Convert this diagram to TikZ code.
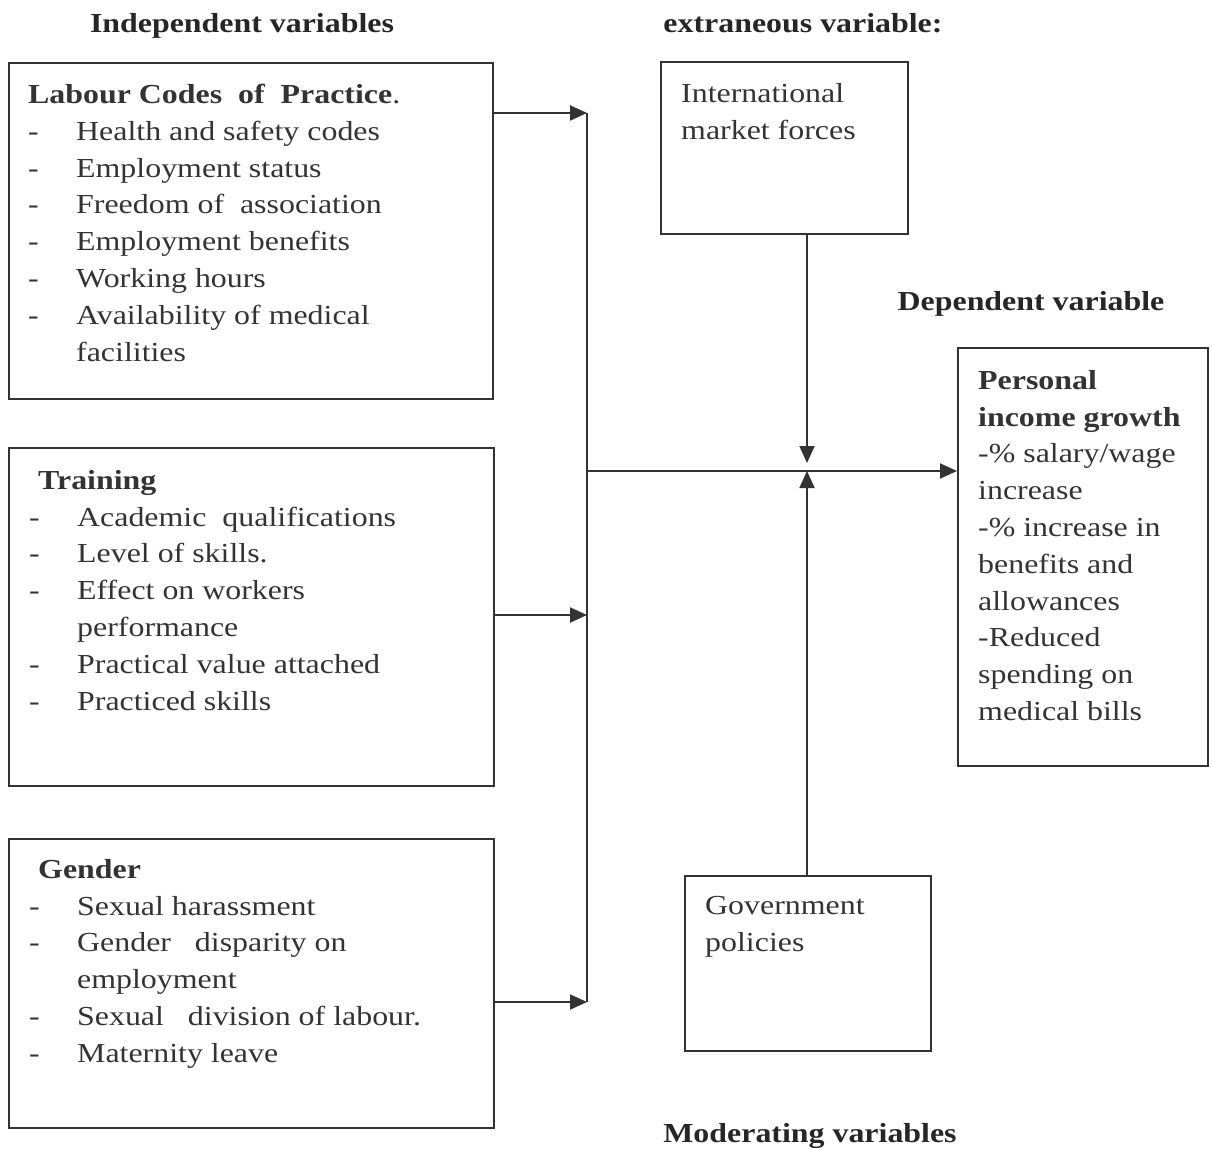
\documentclass[tikz,border=0pt]{standalone}
\usepackage{fontspec}
\setmainfont{Liberation Serif}[FakeStretch=1.16]
\usetikzlibrary{arrows.meta}
\newcommand{\dashitem}[1]{\makebox[48pt][l]{-}#1}
\newcommand{\dashcont}[1]{\hspace*{48pt}#1}

\begin{document}
\begin{tikzpicture}
[x=1pt,y=-1pt,
  boxdecorate/.style={shape=rectangle,draw=black!80,line width=1.9pt,inner sep=0pt,anchor=north west},%
  textdecorate/.style={anchor=north west,inner sep=0pt,align=left,text=black!80,font=\fontsize{27.5}{36.8}\selectfont},%
  headdecorate/.style={anchor=base,inner sep=0pt,text=black!85,font=\fontsize{27.5}{36.8}\selectfont\bfseries},%
  linedecorate/.style={-,draw=black!80,line width=1.9pt},%
  arrowdecorate/.style={-{Triangle[length=17pt,width=15pt]},draw=black!80,fill=black!80,line width=1.9pt}]
\useasboundingbox (0,0) rectangle (1212,1148);
%%
%% headings
\node (indephead) at (242,33) [headdecorate] {Independent variables};
\node (extrahead) at (803,33) [headdecorate] {extraneous variable:};
\node (dephead) at (1031,310) [headdecorate] {Dependent variable};
\node (modhead) at (810,1142) [headdecorate] {Moderating variables};
%%
%% boxes
\node (labour) at (8,62) [boxdecorate,minimum width=484pt,minimum height=336pt] {};
\node (training) at (8,447) [boxdecorate,minimum width=485pt,minimum height=338pt] {};
\node (gender) at (8,838) [boxdecorate,minimum width=485pt,minimum height=289pt] {};
\node (intl) at (660,61) [boxdecorate,minimum width=247pt,minimum height=172pt] {};
\node (govt) at (684,875) [boxdecorate,minimum width=246pt,minimum height=175pt] {};
\node (personal) at (957,347) [boxdecorate,minimum width=250pt,minimum height=418pt] {};
%%
%% texts in the boxes
\node (labourtext) at (28,84) [textdecorate] {\textbf{Labour Codes\ \ of\ \ Practice}.\\
  \dashitem{Health and safety codes}\\
  \dashitem{Employment status}\\
  \dashitem{Freedom of\ \ association}\\
  \dashitem{Employment benefits}\\
  \dashitem{Working hours}\\
  \dashitem{Availability of medical}\\
  \dashcont{facilities}};
\node (trainingtext) at (29,470) [textdecorate] {\hspace*{9pt}\textbf{Training}\\
  \dashitem{Academic\ \ qualifications}\\
  \dashitem{Level of skills.}\\
  \dashitem{Effect on workers}\\
  \dashcont{performance}\\
  \dashitem{Practical value attached}\\
  \dashitem{Practiced skills}};
\node (gendertext) at (29,859) [textdecorate] {\hspace*{9pt}\textbf{Gender}\\
  \dashitem{Sexual harassment}\\
  \dashitem{Gender\ \ \ disparity on}\\
  \dashcont{employment}\\
  \dashitem{Sexual\ \ \ division of labour.}\\
  \dashitem{Maternity leave}};
\node (intltext) at (681,83) [textdecorate] {International\\market forces};
\node (govttext) at (705,896) [textdecorate] {Government\\policies};
\node (personaltext) at (978,370) [textdecorate] {\textbf{Personal}\\
  \textbf{income growth}\\
  -\% salary/wage\\
  increase\\
  -\% increase in\\
  benefits and\\
  allowances\\
  -Reduced\\
  spending on\\
  medical bills};
%%
%% junctions
\coordinate (jA) at (587,113);
\coordinate (jT) at (587,615);
\coordinate (jG) at (587,1002);
\coordinate (jM) at (587,471);
\coordinate (mdown) at (807,463);
\coordinate (mup) at (807,471);
%%
%% edges or lines
\foreach \boxname/\jname in {labour/jA, training/jT, gender/jG} {
  \draw[arrowdecorate] (\boxname.east |- \jname) -- (\jname);
}
\draw[linedecorate] (jA) -- (jG);
\draw[arrowdecorate] (jM) -- (personal.west |- jM);
\draw[arrowdecorate] (mdown |- intl.south) -- (mdown);
\draw[arrowdecorate] (mup |- govt.north) -- (mup);
\end{tikzpicture}
\end{document}
